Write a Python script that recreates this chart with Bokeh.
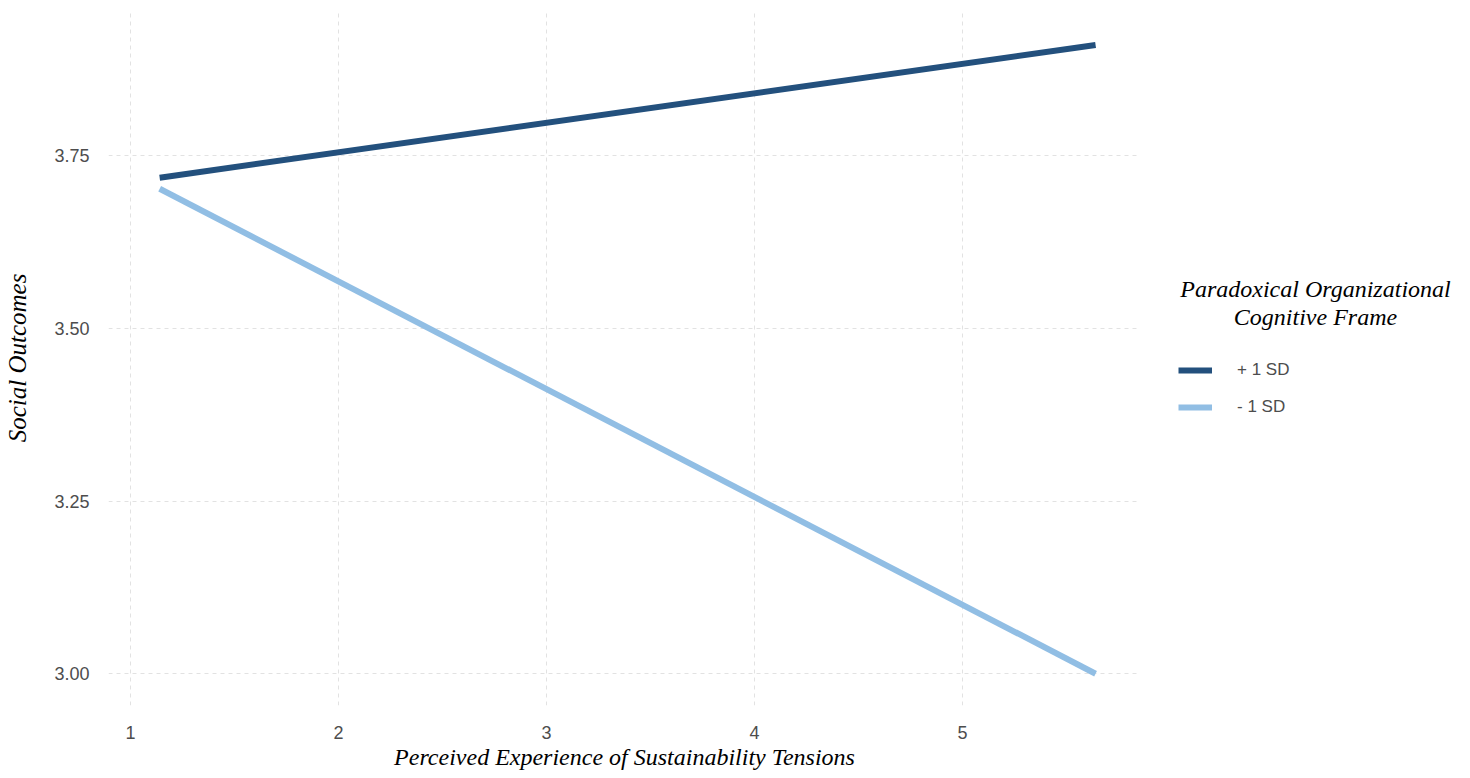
from bokeh.plotting import figure
from bokeh.layouts import row
from bokeh.models import Range1d, Legend, LegendItem, FixedTicker, Label, CustomJSTickFormatter
from bokeh.embed import file_html
from bokeh.resources import INLINE

# Data
tension = [1.14, 5.64]
plus_1sd = [3.718, 3.910]
minus_1sd = [3.702, 3.000]
series_labels = ["+ 1 SD", "- 1 SD"]
legend_title = ["Paradoxical Organizational", "Cognitive Frame"]
x_ticks = [1, 2, 3, 4, 5]
y_ticks = [3.00, 3.25, 3.50, 3.75]

DARK = "#23507d"
LIGHT = "#91bee4"
TICK_COLOR = "#4d4d4d"
SERIF = "Liberation Serif"
SANS = "Liberation Sans"
H = 778

p = figure(width=1140, height=H, output_backend="svg", toolbar_location=None,
           x_range=Range1d(0.894, 5.856), y_range=Range1d(2.954, 3.96),
           min_border_left=108, min_border_right=0, min_border_top=10,
           min_border_bottom=73)
p.outline_line_color = None
p.background_fill_color = "white"
p.border_fill_color = "white"

p.line(tension, plus_1sd, line_color=DARK, line_width=6)
p.line(tension, minus_1sd, line_color=LIGHT, line_width=6)

p.xaxis.ticker = FixedTicker(ticks=x_ticks)
p.yaxis.ticker = FixedTicker(ticks=y_ticks)
p.yaxis.formatter = CustomJSTickFormatter(code="return tick.toFixed(2);")

for ax in (p.xaxis[0], p.yaxis[0]):
    ax.axis_line_color = None
    ax.major_tick_line_color = None
    ax.minor_tick_line_color = None
    ax.major_label_text_color = TICK_COLOR
    ax.major_label_text_font = SANS
    ax.major_label_text_font_size = "18px"
    ax.axis_label_text_font = SERIF
    ax.axis_label_text_font_style = "italic"
    ax.axis_label_text_color = "black"

p.xaxis.axis_label = "Perceived Experience of Sustainability Tensions"
p.yaxis.axis_label = "Social Outcomes"
p.xaxis.axis_label_text_font_size = "24px"
p.yaxis.axis_label_text_font_size = "25px"
p.xaxis.major_label_standoff = 14
p.xaxis.axis_label_standoff = 2
p.yaxis.major_label_standoff = 13
p.yaxis.axis_label_standoff = 20

for g in (p.xgrid[0], p.ygrid[0]):
    g.grid_line_color = "#e2e2e2"
    g.grid_line_dash = "4 4"
    g.grid_line_width = 1

# Legend panel (separate figure to the right of the plot)
lg = figure(width=330, height=H, output_backend="svg", toolbar_location=None,
            x_axis_type=None, y_axis_type=None,
            x_range=Range1d(0, 1), y_range=Range1d(0, 1),
            min_border_left=0, min_border_right=0, min_border_top=10,
            min_border_bottom=73)
lg.outline_line_color = None
lg.grid.visible = False
lg.background_fill_color = "white"
lg.border_fill_color = "white"
nan = float("nan")
k1 = lg.line([nan], [nan], line_color=DARK, line_width=6)
k2 = lg.line([nan], [nan], line_color=LIGHT, line_width=6)

legend = Legend(items=[LegendItem(label=series_labels[0], renderers=[k1]),
                       LegendItem(label=series_labels[1], renderers=[k2])],
                location=(38, 288))
legend.label_text_font = SANS
legend.label_text_font_size = "17px"
legend.label_text_color = TICK_COLOR
legend.label_standoff = 25
legend.glyph_width = 34
legend.glyph_height = 20
legend.label_height = 20
legend.spacing = 17
legend.border_line_color = None
legend.background_fill_alpha = 0
legend.margin = 0
legend.padding = 8
lg.add_layout(legend)

for i, t in enumerate(legend_title):
    lg.add_layout(Label(x=175, y=417 - 28 * i, x_units="screen", y_units="screen",
                        text=t, text_align="center", text_baseline="middle",
                        text_font=SERIF, text_font_style="italic",
                        text_font_size="24px", text_color="black"))

layout = row(p, lg, spacing=0)
open("out.html", "w").write(file_html(layout, INLINE))
